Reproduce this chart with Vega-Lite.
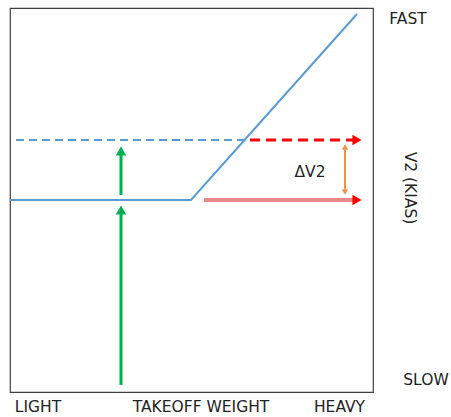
{
  "$schema": "https://vega.github.io/schema/vega-lite/v6.json",
  "width": 363,
  "height": 384,
  "autosize": {"type": "none"},
  "padding": {"left": 10, "top": 8, "right": 78, "bottom": 25},
  "background": "white",
  "config": {"view": {"stroke": "#404040", "strokeWidth": 1.2}},
  "datasets": {
    "lines": [
      {"id": "blue", "x": 0, "y": 192, "o": 1},
      {"id": "blue", "x": 181, "y": 192, "o": 2},
      {"id": "blue", "x": 347, "y": 378, "o": 3},
      {"id": "bluedash", "x": 6, "y": 252, "o": 1},
      {"id": "bluedash", "x": 235, "y": 252, "o": 2},
      {"id": "reddash", "x": 240, "y": 252, "o": 1},
      {"id": "reddash", "x": 344, "y": 252, "o": 2},
      {"id": "salmon", "x": 194, "y": 192, "o": 1},
      {"id": "salmon", "x": 343, "y": 192, "o": 2},
      {"id": "orange", "x": 335, "y": 242, "o": 1},
      {"id": "orange", "x": 335, "y": 203, "o": 2},
      {"id": "green1", "x": 111, "y": 7, "o": 1},
      {"id": "green1", "x": 111, "y": 180, "o": 2},
      {"id": "green2", "x": 111, "y": 197, "o": 1},
      {"id": "green2", "x": 111, "y": 238, "o": 2}
    ],
    "heads": [
      {"id": "red", "shape": "triangle-right", "x": 347, "y": 252},
      {"id": "red", "shape": "triangle-right", "x": 347, "y": 192},
      {"id": "orange", "shape": "triangle-up", "x": 335, "y": 245},
      {"id": "orange", "shape": "triangle-down", "x": 335, "y": 200},
      {"id": "green", "shape": "triangle-up", "x": 111, "y": 182},
      {"id": "green", "shape": "triangle-up", "x": 111, "y": 241}
    ],
    "labels": [
      {"t": "LIGHT", "x": 28, "y": -15, "a": 0},
      {"t": "TAKEOFF WEIGHT", "x": 191, "y": -15, "a": 0},
      {"t": "HEAVY", "x": 329.5, "y": -15, "a": 0},
      {"t": "FAST", "x": 398, "y": 373, "a": 0},
      {"t": "SLOW", "x": 416, "y": 12, "a": 0},
      {"t": "V2  (KIAS)", "x": 400, "y": 204, "a": 90},
      {"t": "ΔV2", "x": 300, "y": 220, "a": 0}
    ]
  },
  "encoding": {
    "x": {"field": "x", "type": "quantitative", "scale": {"domain": [0, 363], "nice": false, "zero": false}, "axis": null},
    "y": {"field": "y", "type": "quantitative", "scale": {"domain": [0, 384], "nice": false, "zero": false}, "axis": null}
  },
  "layer": [
    {
      "data": {"name": "lines"},
      "transform": [{"filter": "datum.id === 'blue'"}],
      "mark": {"type": "line", "color": "#5B9BD5", "strokeWidth": 2},
      "encoding": {"order": {"field": "o"}}
    },
    {
      "data": {"name": "lines"},
      "transform": [{"filter": "datum.id === 'bluedash'"}],
      "mark": {"type": "line", "color": "#5B9BD5", "strokeWidth": 2, "strokeDash": [8, 5]},
      "encoding": {"order": {"field": "o"}}
    },
    {
      "data": {"name": "lines"},
      "transform": [{"filter": "datum.id === 'reddash'"}],
      "mark": {"type": "line", "color": "#FF0000", "strokeWidth": 3, "strokeDash": [10, 6]},
      "encoding": {"order": {"field": "o"}}
    },
    {
      "data": {"name": "lines"},
      "transform": [{"filter": "datum.id === 'salmon'"}],
      "mark": {"type": "line", "color": "#E88A8A", "strokeWidth": 4},
      "encoding": {"order": {"field": "o"}}
    },
    {
      "data": {"name": "lines"},
      "transform": [{"filter": "datum.id === 'orange'"}],
      "mark": {"type": "line", "color": "#EE8F4A", "strokeWidth": 2},
      "encoding": {"order": {"field": "o"}}
    },
    {
      "data": {"name": "lines"},
      "transform": [{"filter": "datum.id === 'green1' || datum.id === 'green2'"}],
      "mark": {"type": "line", "color": "#00B050", "strokeWidth": 3},
      "encoding": {"detail": {"field": "id"}, "order": {"field": "o"}}
    },
    {
      "data": {"name": "heads"},
      "transform": [{"filter": "datum.id === 'red'"}],
      "mark": {"type": "point", "filled": true, "color": "#FF0000", "size": 110, "opacity": 1},
      "encoding": {"shape": {"field": "shape", "type": "nominal", "scale": null}}
    },
    {
      "data": {"name": "heads"},
      "transform": [{"filter": "datum.id === 'orange'"}],
      "mark": {"type": "point", "filled": true, "color": "#EE8F4A", "size": 40, "opacity": 1},
      "encoding": {"shape": {"field": "shape", "type": "nominal", "scale": null}}
    },
    {
      "data": {"name": "heads"},
      "transform": [{"filter": "datum.id === 'green'"}],
      "mark": {"type": "point", "filled": true, "color": "#00B050", "size": 110, "opacity": 1},
      "encoding": {"shape": {"field": "shape", "type": "nominal", "scale": null}}
    },
    {
      "data": {"name": "labels"},
      "mark": {"type": "text", "font": "DejaVu Sans", "fontSize": 15.5, "color": "#222222", "align": "center", "baseline": "middle"},
      "encoding": {"text": {"field": "t"}, "angle": {"field": "a", "type": "quantitative", "scale": null}}
    }
  ]
}
